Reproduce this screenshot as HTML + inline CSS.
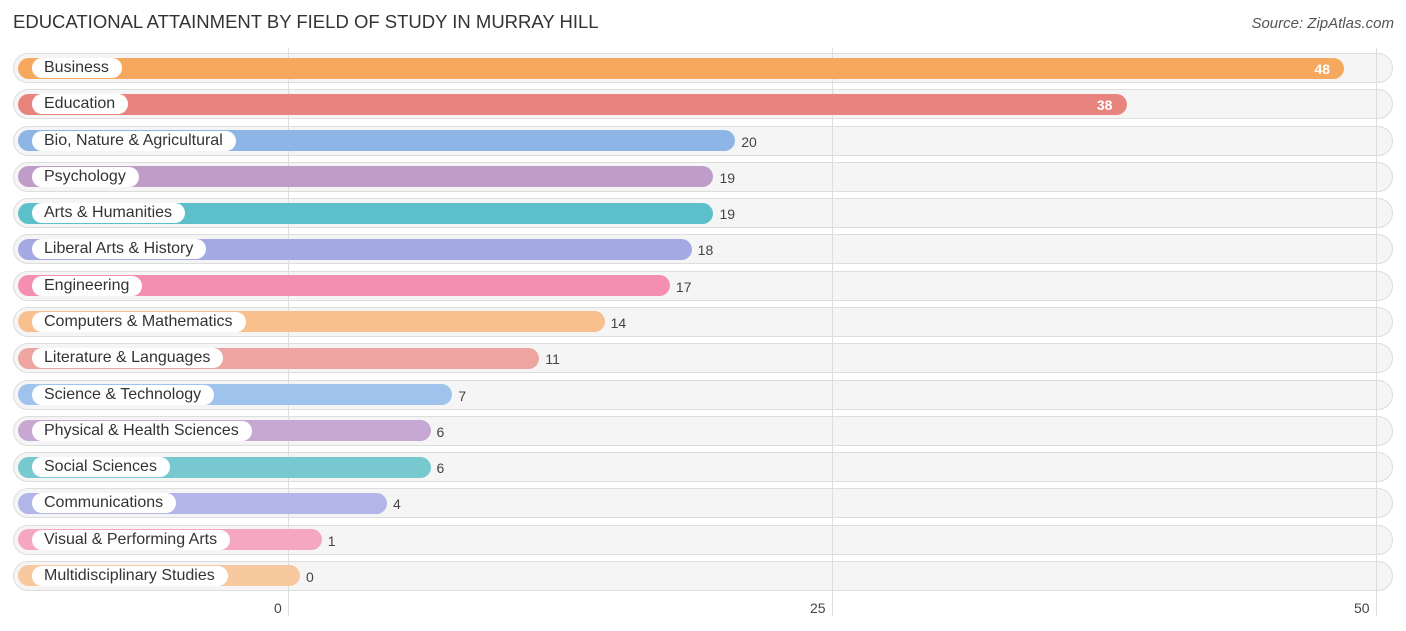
<!DOCTYPE html>
<html><head><meta charset="utf-8"><style>
body{margin:0;width:1406px;height:631px;background:#fff;font-family:"Liberation Sans",sans-serif;overflow:hidden;position:relative}
.title{position:absolute;left:13px;top:11px;font-size:18.5px;color:#333}
.src{position:absolute;right:12px;top:15px;font-size:15px;color:#555;font-style:italic}
.grid{position:absolute;top:48px;height:568px;width:1px;background:#ddd;z-index:1}
.row{position:absolute;left:13px;width:1378px;height:28px;border-radius:15px;background:#f5f5f5;border:1px solid #ddd;z-index:0}
.bar{position:absolute;left:18px;height:21px;border-radius:11px;z-index:2}
.pill{position:absolute;left:32px;height:20px;border-radius:10px;background:#fff;font-size:16px;color:#333;line-height:20px;padding:0 13px 0 12px;z-index:3}
.val{position:absolute;font-size:14px;line-height:20px;z-index:3}
.tick{position:absolute;top:600px;font-size:14px;color:#444}
</style></head><body>
<div class="title">EDUCATIONAL ATTAINMENT BY FIELD OF STUDY IN MURRAY HILL</div>
<div class="src">Source: ZipAtlas.com</div>
<div id="c"></div>
<script>
const categories=["Business","Education","Bio, Nature & Agricultural","Psychology","Arts & Humanities","Liberal Arts & History","Engineering","Computers & Mathematics","Literature & Languages","Science & Technology","Physical & Health Sciences","Social Sciences","Communications","Visual & Performing Arts","Multidisciplinary Studies"];
const values=[48,38,20,19,19,18,17,14,11,7,6,6,4,1,0];
const colors=["#f6a95e","#e8847e","#8db5e6","#c09cc9","#5dbfc9","#a4a9e4","#f48fb1","#f8c08c","#eea4a0","#9fc3ec","#c7a8d3","#77c8cf","#b1b5e8","#f5a7c2","#f8c89e"];
const ticks=[0,25,50];
const c=document.getElementById('c');
const gx=v=>288+v*21.76;
const barEnd=v=>300+v*21.76;
const rowY=i=>68+i*36.28;
ticks.forEach(t=>{
 const g=document.createElement('div');g.className='grid';g.style.left=gx(t)+'px';
 
 
 c.appendChild(g);
 const l=document.createElement('div');l.className='tick';l.textContent=t;
 
 
 l.style.left=(gx(t)-6-String(t).length*8)+'px';c.appendChild(l);
});
categories.forEach((cat,i)=>{
 const y=rowY(i);
 const r=document.createElement('div');r.className='row';r.style.top=(y-15)+'px';
 
 
 c.appendChild(r);
 const b=document.createElement('div');b.className='bar';b.style.top=(y-10.5)+'px';
 b.style.width=(barEnd(values[i])-18)+'px';b.style.background=colors[i];
 
 
 c.appendChild(b);
 const p=document.createElement('div');p.className='pill';p.style.top=(y-10)+'px';p.textContent=cat;
 
 
 c.appendChild(p);
 const v=document.createElement('div');v.className='val';v.textContent=values[i];v.style.top=(y-9)+'px';
 
 
 if(values[i]>30){v.style.left=(barEnd(values[i])-30)+'px';v.style.color='#fff';v.style.fontWeight='bold';}
 else{v.style.left=(barEnd(values[i])+6)+'px';v.style.color='#444';}
 c.appendChild(v);
});
</script>
</body></html>
